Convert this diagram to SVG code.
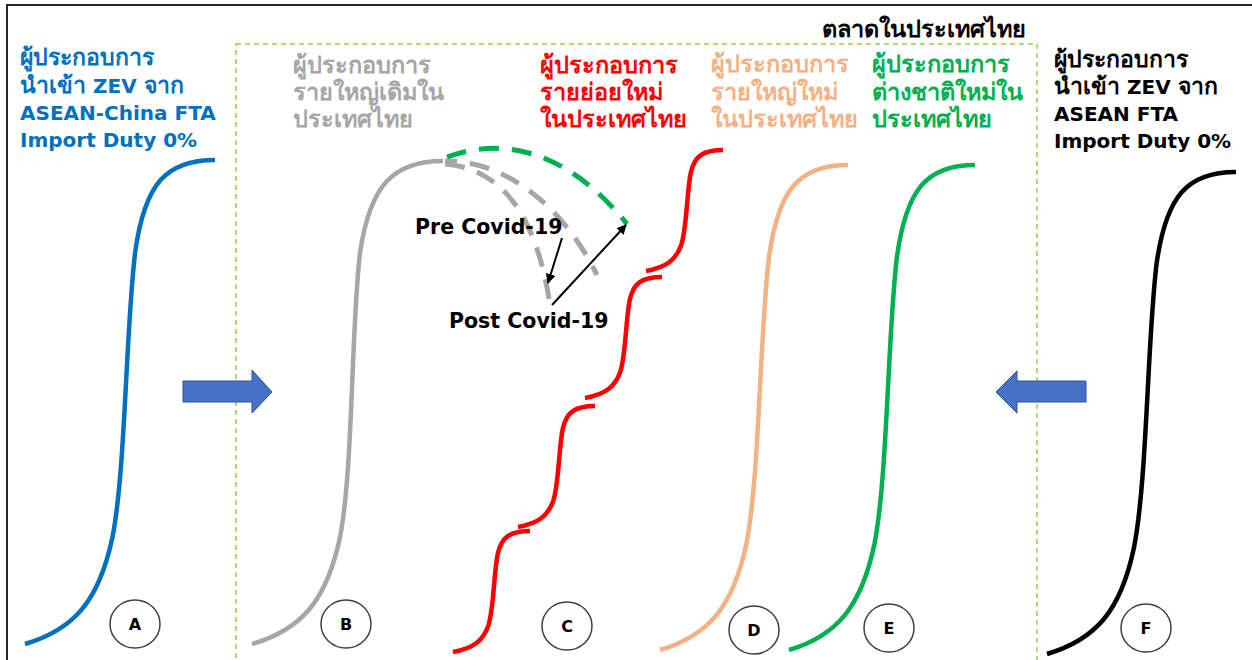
<svg xmlns="http://www.w3.org/2000/svg" width="1252" height="660" viewBox="0 0 1252 660">
<defs>
<style>
.t{font-family:"DejaVu Sans","Noto Sans",sans-serif;font-weight:bold;}
.s20{font-size:20px;}
.th{font-size:23px;}
.thm{font-size:23.5px;}
.curve{fill:none;stroke-width:4.5;stroke-linecap:butt;}
.dash{fill:none;stroke-width:5;stroke-dasharray:20 13;}
.lbl{fill:#fff;stroke:#404040;stroke-width:1.5;}
.lt{font-family:"DejaVu Sans",sans-serif;font-weight:bold;font-size:16px;text-anchor:middle;}
.blk{fill:#4472C4;stroke:#2F528F;stroke-width:1;}
.conn{stroke:#000;stroke-width:2;fill:none;marker-end:url(#ah);}
</style>
<marker id="ah" viewBox="0 0 10 10" refX="9" refY="5" markerWidth="5" markerHeight="5" orient="auto" markerUnits="strokeWidth">
<path d="M0,0 L10,5 L0,10 z" fill="#000"/>
</marker>
<path id="seg" d="M0,0 C20,-3.6 30,-10.9 35.4,-26.6 C40.8,-43.6 40.8,-78.7 44.7,-98 C48.5,-115 57,-121 77,-121"/>
</defs>
<rect x="0" y="0" width="1252" height="660" fill="#fff"/>
<path d="M7,660 L7,5 L1252,5" fill="none" stroke="#262626" stroke-width="2"/>
<rect x="236" y="44" width="801" height="640" fill="none" stroke="#92D050" stroke-width="1.5" stroke-dasharray="5 4"/>
<text class="t thm" x="1026" y="37" text-anchor="end" fill="#000">ตลาดในประเทศไทย</text>

<g id="nodeA">
<text class="t s20" fill="#0070C0"><tspan x="20" y="65" class="th">ผู้ประกอบการ</tspan><tspan x="20" y="92.5"><tspan class="th">นำเข้า</tspan> ZEV <tspan class="th">จาก</tspan></tspan><tspan x="20" y="120">ASEAN-China FTA</tspan><tspan x="20" y="147">Import Duty 0%</tspan></text>
<path class="curve" stroke="#0070C0" d="M25,644 C74.4,629.5 99.1,600.4 112.4,537.5 C125.7,469.8 125.7,329.4 135.2,252 C144.7,184.2 165.6,160 215,160"/>
<ellipse class="lbl" cx="135" cy="624" rx="25" ry="24"/>
<text class="lt" x="135" y="630">A</text>
</g>

<g id="nodeB">
<text class="t thm" fill="#A6A6A6"><tspan x="293" y="73">ผู้ประกอบการ</tspan><tspan x="293" y="100">รายใหญ่เดิมใน</tspan><tspan x="293" y="127">ประเทศไทย</tspan></text>
<path class="curve" stroke="#A6A6A6" d="M252,644 C301.7,629.5 326.5,600.5 339.9,537.7 C353.2,470.1 351,330 360,252.8 C370,185.1 393.3,161 443,161"/>
<path class="dash" stroke="#A6A6A6" stroke-dashoffset="8" d="M445,161 C500,160 560,200 597,275"/>
<path class="dash" stroke="#A6A6A6" d="M445,164 C495,168 535,205 550,305"/>
<path class="dash" stroke="#00B050" stroke-dasharray="4 14 20 13 20 13 20 13 20 13 20 13" d="M447,157 C485,143 555,135 627,224"/>
<text class="t" font-size="20.5" x="415" y="234" fill="#000">Pre Covid-19</text>
<text class="t" font-size="20.5" x="449" y="328" fill="#000">Post Covid-19</text>
<ellipse class="lbl" cx="346" cy="624" rx="25" ry="24"/>
<text class="lt" x="346" y="630">B</text>
</g>

<g id="nodeC">
<text class="t thm" fill="#FF0000"><tspan x="540" y="73">ผู้ประกอบการ</tspan><tspan x="540" y="100">รายย่อยใหม่</tspan><tspan x="540" y="127">ในประเทศไทย</tspan></text>
<g class="curve" stroke="#FF0000">
<use href="#seg" x="453" y="652"/>
<use href="#seg" x="518" y="527"/>
<use href="#seg" x="585" y="398"/>
<use href="#seg" x="646" y="271"/>
</g>
<ellipse class="lbl" cx="567" cy="626" rx="25" ry="24"/>
<text class="lt" x="567" y="632">C</text>
</g>

<g id="nodeD">
<text class="t thm" fill="#F4B183"><tspan x="711" y="72">ผู้ประกอบการ</tspan><tspan x="711" y="100">รายใหญ่ใหม่</tspan><tspan x="711" y="127">ในประเทศไทย</tspan></text>
<path class="curve" stroke="#F4B183" d="M660,650 C708.9,635.4 733.3,606.3 746.5,543.3 C759.6,475.4 759.6,334.7 769,257.1 C778.4,189.2 799.1,165 848,165"/>
<ellipse class="lbl" cx="754" cy="630" rx="25" ry="24"/>
<text class="lt" x="754" y="636">D</text>
</g>

<g id="nodeE">
<text class="t thm" fill="#00B050"><tspan x="872" y="72">ผู้ประกอบการ</tspan><tspan x="872" y="100">ต่างชาติใหม่ใน</tspan><tspan x="872" y="127">ประเทศไทย</tspan></text>
<path class="curve" stroke="#00B050" d="M789,650 C837.4,635.4 861.5,606.3 874.6,543.3 C887.6,475.4 887.6,334.7 896.9,257.1 C906.2,189.2 926.6,165 975,165"/>
<ellipse class="lbl" cx="889" cy="628" rx="25" ry="24"/>
<text class="lt" x="889" y="634">E</text>
</g>

<g id="nodeF">
<text class="t s20" fill="#000"><tspan x="1054" y="67" class="th">ผู้ประกอบการ</tspan><tspan x="1054" y="94"><tspan class="th">นำเข้า</tspan> ZEV <tspan class="th">จาก</tspan></tspan><tspan x="1054" y="121">ASEAN FTA</tspan><tspan x="1054" y="148">Import Duty 0%</tspan></text>
<path class="curve" stroke="#000" d="M1047,654 C1096.1,639.5 1120.7,610.6 1133.9,548 C1147.2,480.5 1147.2,340.7 1156.6,263.6 C1166.1,196.1 1186.9,172 1236,172"/>
<ellipse class="lbl" cx="1146" cy="628" rx="25" ry="24"/>
<text class="lt" x="1146" y="634">F</text>
</g>

<g id="connectors">
<path class="blk" d="M183,381 L252,381 L252,370 L272,392 L252,413 L252,402 L183,402 z"/>
<path class="blk" d="M1086,381 L1017,381 L1017,371 L996,392 L1017,413 L1017,402 L1086,402 z"/>
<line class="conn" x1="562" y1="238" x2="548" y2="283"/>
<line class="conn" x1="552" y1="305" x2="626" y2="225"/>
</g>
</svg>
